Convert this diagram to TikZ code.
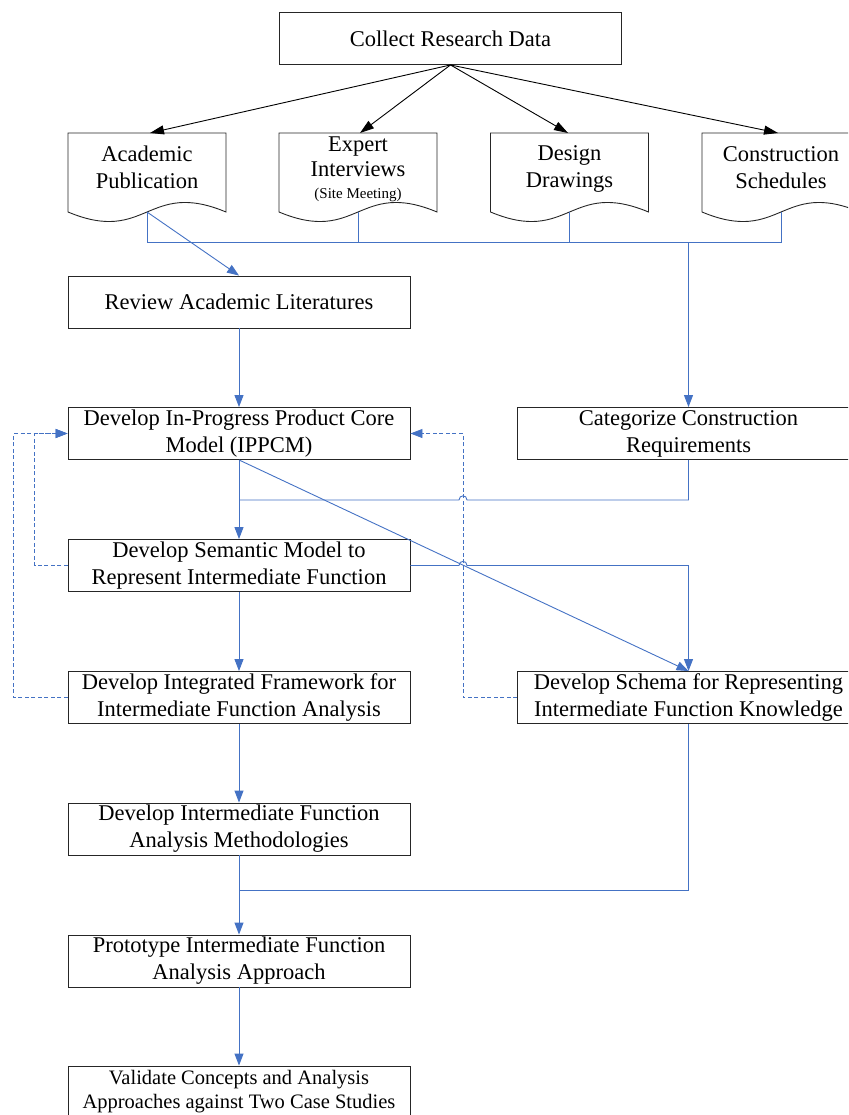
\documentclass[tikz,border=0pt]{standalone}
\usepackage{fontspec}
\setmainfont{Liberation Serif}
\usetikzlibrary{arrows.meta,calc}
\definecolor{flowblue}{HTML}{4472C4}
\begin{document}
\begin{tikzpicture}[x=1pt,y=-1pt,
  txt/.style={align=center, inner sep=0pt, font=\fontsize{22.5}{27}\selectfont},
  box/.style={txt, draw=black!85, line width=0.9pt, minimum width=342pt, minimum height=52pt},
  docline/.style={draw=black!85, line width=0.9pt},
  feed/.style={black, line width=0.9pt, -{Triangle[length=14pt,width=9pt]}},
  flow/.style={flowblue, line width=0.9pt},
  flowarrow/.style={flow, -{Triangle[length=12pt,width=9pt]}},
  back/.style={flowblue, line width=0.9pt, dash pattern=on 4pt off 2.5pt},
  backarrow/.style={back, -{Triangle[length=12pt,width=9pt]}},
]
\clip (0,0) rectangle (848,1115);

% source box
\node[box] (collect) at (450.5,38.5) {Collect Research Data};

% document shapes (wavy bottom)
\foreach \cx in {147,358,569.5,781}{
  \draw[docline] (\cx-79,133) -- (\cx+79,133) -- (\cx+79,212)
    .. controls (\cx,179) and (\cx,245) .. (\cx-79,212) -- cycle;
}
\node[txt] (ap) at (147,167.5) {Academic\\Publication};
\node[txt] (ei) at (358,169.5) {Expert\\[-2pt]Interviews\\[-5pt]{\fontsize{15}{17}\selectfont (Site Meeting)}};
\node[txt] (dd) at (569.5,169) {Design\\Drawings};
\node[txt] (cs) at (781,167.5) {Construction\\Schedules};

\coordinate (ap-t) at (150,133);
\coordinate (ei-t) at (360,133);
\coordinate (dd-t) at (568,133);
\coordinate (cs-t) at (778,133);
\coordinate (ap-b) at (147,212);
\coordinate (ei-b) at (358,212);
\coordinate (dd-b) at (569.5,212);
\coordinate (cs-b) at (781,212);

% process boxes
\node[box] (rev)   at (239,302)   {Review Academic Literatures};
\node[box] (ipp)   at (239,433.5) {Develop In-Progress Product Core\\Model (IPPCM)};
\node[box] (cat)   at (688.5,433.5) {Categorize Construction\\Requirements};
\node[box] (sem)   at (239,565.5) {Develop Semantic Model to\\Represent Intermediate Function};
\node[box] (fw)    at (239,697.5) {Develop Integrated Framework for\\Intermediate Function Analysis};
\node[box] (sch)   at (688.5,697.5) {Develop Schema for Representing\\Intermediate Function Knowledge};
\node[box] (meth)  at (239,829)   {Develop Intermediate Function\\Analysis Methodologies};
\node[box] (proto) at (239,961)   {Prototype Intermediate Function\\Analysis Approach};
\node[box, font=\fontsize{20.5}{24}\selectfont] (val) at (239,1092) {Validate Concepts and Analysis\\Approaches against Two Case Studies};

% data collection
\foreach \t in {ap-t,ei-t,dd-t,cs-t}
  \draw[feed] (collect.south) -- (\t);

% collected sources gathered into one bus
\coordinate (bus) at (688.5,242);
\draw[flow] (ap-b) -- ++(0,30) -| (cs-b);
\draw[flow] (ei-b) -- (ei-b |- bus);
\draw[flow] (dd-b) -- (dd-b |- bus);
\draw[flowarrow] (bus) -- (cat.north);
\draw[flowarrow] (ap-b) -- (rev.north);

% main chain
\draw[flowarrow] (rev.south) -- (ipp.north);
\draw[flowarrow] (ipp.south) -- (sem.north);
\draw[flowarrow] (sem.south) -- (fw.north);
\draw[flowarrow] (fw.south) -- (meth.north);
\draw[flowarrow] (meth.south) -- (proto.north);
\draw[flowarrow] (proto.south) -- (val.north);
\draw[flowarrow] (ipp.south) -- (sch.north);

% joins with line hops over the dashed feedback
\draw[flow] (cat.south) |- (467,500)
  .. controls (467,494.5) and (459,494.5) .. (459,500) -- (ipp.south |- 0,500);
\draw[flowarrow] (sem.east) -- (459,565.5)
  .. controls (459,560) and (467,560) .. (467,565.5) -| (sch.north);
\draw[flow] (sch.south) |- (meth.south |- 0,890);

% feedback loops
\draw[backarrow] (sem.west) -- ++(-33,0) |- (ipp.west);
\draw[backarrow] (fw.west) -- ++(-54,0) |- (ipp.west);
\draw[backarrow] (sch.west) -- ++(-54,0) |- (ipp.east);
\end{tikzpicture}
\end{document}
